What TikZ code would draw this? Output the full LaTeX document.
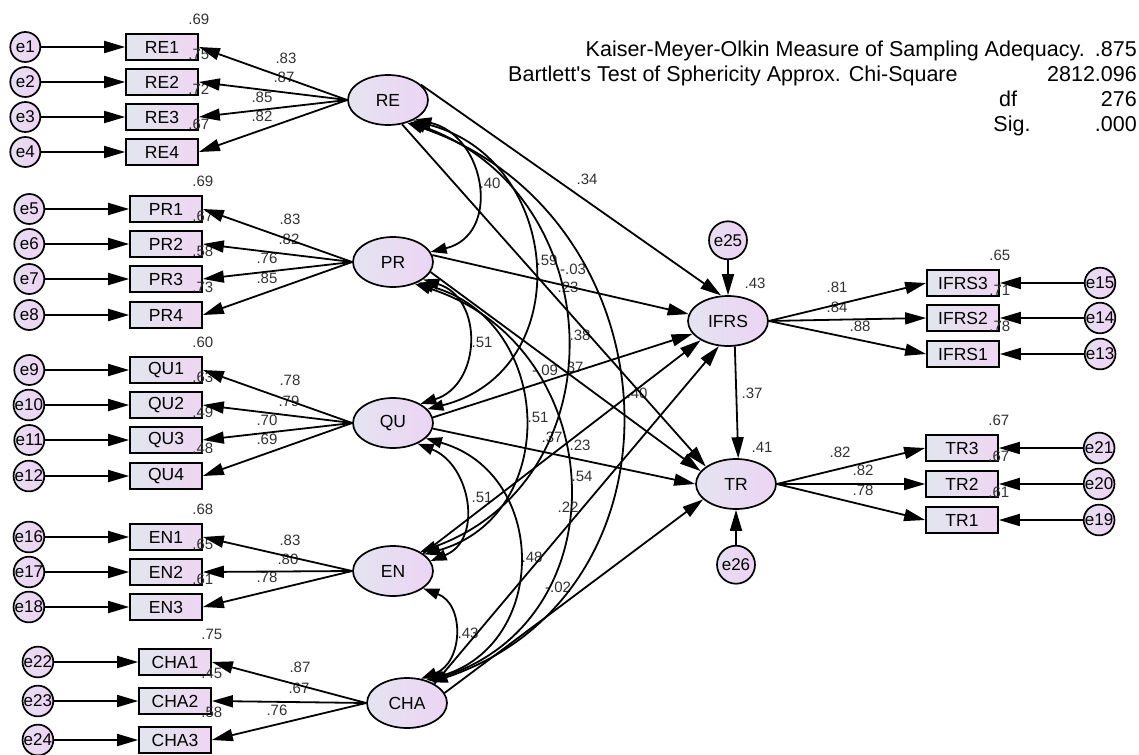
\documentclass[tikz,border=0pt]{standalone}
\usepackage{fontspec}
\setmainfont{Liberation Sans}
\usetikzlibrary{arrows.meta,positioning,shapes.geometric}

\definecolor{boxL}{RGB}{226,230,238}
\definecolor{boxR}{RGB}{238,214,242}
\definecolor{latL}{RGB}{228,228,240}
\definecolor{latR}{RGB}{236,212,244}
\definecolor{errL}{RGB}{230,222,240}
\definecolor{errR}{RGB}{238,210,244}
\definecolor{numgray}{RGB}{50,50,50}

\begin{document}
\begin{tikzpicture}[
  x=1pt, y=1pt,
  ind/.style={draw, line width=1.7pt, minimum width=72pt, minimum height=26pt, inner sep=0pt, left color=boxL, right color=boxR, font=\fontsize{17.5}{18}\selectfont},
  lat/.style={ellipse, draw, line width=1.7pt, minimum width=80pt, minimum height=50pt, inner sep=0pt, left color=latL, right color=latR, font=\fontsize{17.5}{18}\selectfont},
  err/.style={circle, draw, line width=1.7pt, minimum size=30pt, inner sep=0pt, left color=errL, right color=errR, font=\fontsize{17}{18}\selectfont},
  errbig/.style={err, minimum size=38pt},
  lbl/.style={inner sep=0pt, text=numgray, font=\fontsize{15}{15}\selectfont},
  hdr/.style={inner sep=0pt, font=\fontsize{21.5}{22}\selectfont},
  arr/.style={-{Triangle[length=21pt,width=12pt]}, line width=1.8pt},
  cov/.style={{Triangle[length=16pt,width=11pt]}-{Triangle[length=16pt,width=11pt]}, line width=1.8pt}
]
\useasboundingbox (0,0) rectangle (1139,-754);

% latent variables
\node[lat] (RE) at (388,-100) {RE};
\node[lat] (PR) at (393,-262) {PR};
\node[lat] (QU) at (393,-423) {QU};
\node[lat] (EN) at (393,-571) {EN};
\node[lat] (CHA) at (407,-703) {CHA};
\node[lat] (IFRS) at (728,-321) {IFRS};
\node[lat] (TR) at (736,-484) {TR};
\node[errbig, above=35pt of IFRS] (e25) {e25};
\node[errbig, below=35pt of TR] (e26) {e26};

% indicators and their errors
\foreach \i/\e/\y in {1/1/47,2/2/82,3/3/117,4/4/152}{
  \node[ind] (RE\i) at (162,-\y) {RE\i};
  \node[err, left=84pt of RE\i] (e\e) {e\e};
}
\foreach \i/\e/\y in {1/5/209,2/6/244,3/7/279,4/8/315}{
  \node[ind] (PR\i) at (166,-\y) {PR\i};
  \node[err, left=84pt of PR\i] (e\e) {e\e};
}
\foreach \i/\e/\y in {1/9/370,2/10/405,3/11/440,4/12/476}{
  \node[ind] (QU\i) at (166,-\y) {QU\i};
  \node[err, left=84pt of QU\i] (e\e) {e\e};
}
\foreach \i/\e/\y in {1/16/537,2/17/572,3/18/607}{
  \node[ind] (EN\i) at (166,-\y) {EN\i};
  \node[err, left=84pt of EN\i] (e\e) {e\e};
}
\foreach \i/\e/\y in {1/22/662,2/23/701,3/24/740}{
  \node[ind] (CHA\i) at (175,-\y) {CHA\i};
  \node[err, left=84pt of CHA\i] (e\e) {e\e};
}
\foreach \i/\e/\y in {3/15/283,2/14/318,1/13/354}{
  \node[ind] (IFRS\i) at (963,-\y) {IFRS\i};
  \node[err, right=84pt of IFRS\i] (e\e) {e\e};
}
\foreach \i/\e/\y in {3/21/448,2/20/484,1/19/520}{
  \node[ind] (TR\i) at (962,-\y) {TR\i};
  \node[err, right=84pt of TR\i] (e\e) {e\e};
}

% KMO and Bartlett table
\node[hdr, anchor=base east] (kmoT) at (1085,-57) {Kaiser-Meyer-Olkin Measure of Sampling Adequacy.};
\node[hdr, anchor=base east] (kmoV) at (1137,-57) {.875};
\node[hdr, anchor=base west] (bartT) at (508,-82) {Bartlett\textquotesingle s Test of Sphericity Approx. Chi-Square};
\node[hdr, anchor=base east] (bartV) at (1137,-82) {2812.096};
\node[hdr, anchor=base] (dfT) at (1008,-107) {df};
\node[hdr, anchor=base east] (dfV) at (1137,-107) {276};
\node[hdr, anchor=base] (sigT) at (1012,-132) {Sig.};
\node[hdr, anchor=base east] (sigV) at (1137,-132) {.000};

% squared multiple correlations
\foreach \b/\v [count=\k] in {RE1/.69,RE2/.75,RE3/.72,RE4/.67,PR1/.69,PR2/.67,PR3/.58,PR4/.73,
    QU1/.60,QU2/.63,QU3/.49,QU4/.48,EN1/.68,EN2/.65,EN3/.61,CHA1/.75,CHA2/.45,CHA3/.58,
    IFRS3/.65,IFRS2/.71,IFRS1/.78,TR3/.67,TR2/.67,TR1/.61}
  \node[lbl] (r\k) at ([yshift=14pt]\b.north east) {\v};
\node[lbl] (rIFRS) at (755,-283) {.43};
\node[lbl] (rTR) at (762,-447) {.41};

% loadings
\foreach \x/\y/\v [count=\k] in {286/58/.83,284/77/.87,262/97/.85,262/116/.82,
    290/219/.83,289/239/.82,267/258/.76,267/278/.85,
    290/380/.78,289/401/.79,267/420/.70,267/439/.69,
    290/540/.83,288/559/.80,267/577/.78,
    300/667/.87,299/688/.67,277/710/.76,
    837/287/.81,837/307/.84,860/326/.88,
    840/452/.82,863/470/.82,863/490/.78}
  \node[lbl] (ld\k) at (\x,-\y) {\v};

% path and covariance estimates
\node[lbl] (cREPR) at (490,-183) {.40};
\node[lbl] (pREIF) at (587,-179) {.34};
\node[lbl] (cREQU) at (547,-260) {.59};
\node[lbl] (pPRIF) at (573,-269) {-.03};
\node[lbl] (pRETR) at (568,-287) {.23};
\node[lbl] (cREEN) at (580,-335) {.38};
\node[lbl] (cPRQU) at (482,-342) {.51};
\node[lbl] (pPRTR) at (545,-370) {-.09};
\node[lbl] (pQUIF) at (573,-367) {.37};
\node[lbl] (cRECH) at (637,-393) {.40};
\node[lbl] (cPREN) at (538,-417) {.51};
\node[lbl] (pQUTR) at (552,-437) {.37};
\node[lbl] (pENIF) at (580,-445) {.23};
\node[lbl] (cPRCH) at (582,-476) {.54};
\node[lbl] (cQUEN) at (482,-497) {.51};
\node[lbl] (pCHIF) at (568,-507) {.22};
\node[lbl] (cQUCH) at (532,-557) {.48};
\node[lbl] (pCHTR) at (558,-587) {-.02};
\node[lbl] (cENCH) at (468,-633) {.43};
\node[lbl] (pIFTR) at (752,-393) {.37};

% measurement arrows
\foreach \i/\e in {1/1,2/2,3/3,4/4}{
  \draw[arr] (e\e) -- (RE\i);
  \draw[arr] (RE.west) -- (RE\i.east);
}
\foreach \i/\e in {1/5,2/6,3/7,4/8}{
  \draw[arr] (e\e) -- (PR\i);
  \draw[arr] (PR.west) -- (PR\i.east);
}
\foreach \i/\e in {1/9,2/10,3/11,4/12}{
  \draw[arr] (e\e) -- (QU\i);
  \draw[arr] (QU.west) -- (QU\i.east);
}
\foreach \i/\e in {1/16,2/17,3/18}{
  \draw[arr] (e\e) -- (EN\i);
  \draw[arr] (EN.west) -- (EN\i.east);
}
\foreach \i/\e in {1/22,2/23,3/24}{
  \draw[arr] (e\e) -- (CHA\i);
  \draw[arr] (CHA.west) -- (CHA\i.east);
}
\foreach \i/\e in {3/15,2/14,1/13}{
  \draw[arr] (e\e) -- (IFRS\i);
  \draw[arr] (IFRS.east) -- (IFRS\i.west);
}
\foreach \i/\e in {3/21,2/20,1/19}{
  \draw[arr] (e\e) -- (TR\i);
  \draw[arr] (TR.east) -- (TR\i.west);
}
\draw[arr] (e25) -- (IFRS);
\draw[arr] (e26) -- (TR);

% structural paths
\draw[arr] (RE.25) -- (IFRS.105);
\draw[arr] (PR.10) -- (IFRS.170);
\draw[arr] (QU.8) -- (IFRS.200);
\draw[arr] (EN.30) -- (IFRS.215);
\draw[arr] (CHA.35) -- (IFRS.250);
\draw[arr] (RE.-60) -- (TR.150);
\draw[arr] (PR.-15) -- (TR.160);
\draw[arr] (QU.-8) -- (TR.180);
\draw[arr] (CHA.15) -- (TR.205);
\draw[arr] (IFRS.-75) -- (TR.85);

% covariances
\draw[cov] (RE.-35) .. controls +(71,-17) and +(71,17) .. (PR.15);
\draw[cov] (RE.-40) .. controls +(151,-38) and +(151,38) .. (QU.22);
\draw[cov] (RE.-45) .. controls +(201,-73) and +(201,73) .. (EN.35);
\draw[cov] (RE.-50) .. controls +(268,-91) and +(268,91) .. (CHA.40);
\draw[cov] (PR.-30) .. controls +(61,-19) and +(61,19) .. (QU.35);
\draw[cov] (PR.-40) .. controls +(137,-39) and +(137,39) .. (EN.28);
\draw[cov] (PR.-45) .. controls +(195,-62) and +(195,62) .. (CHA.45);
\draw[cov] (QU.-40) .. controls +(53,-21) and +(53,21) .. (EN.15);
\draw[cov] (QU.-25) .. controls +(123,-35) and +(123,35) .. (CHA.50);
\draw[cov] (EN.-30) .. controls +(42,-16) and +(42,16) .. (CHA.60);
\end{tikzpicture}
\end{document}
